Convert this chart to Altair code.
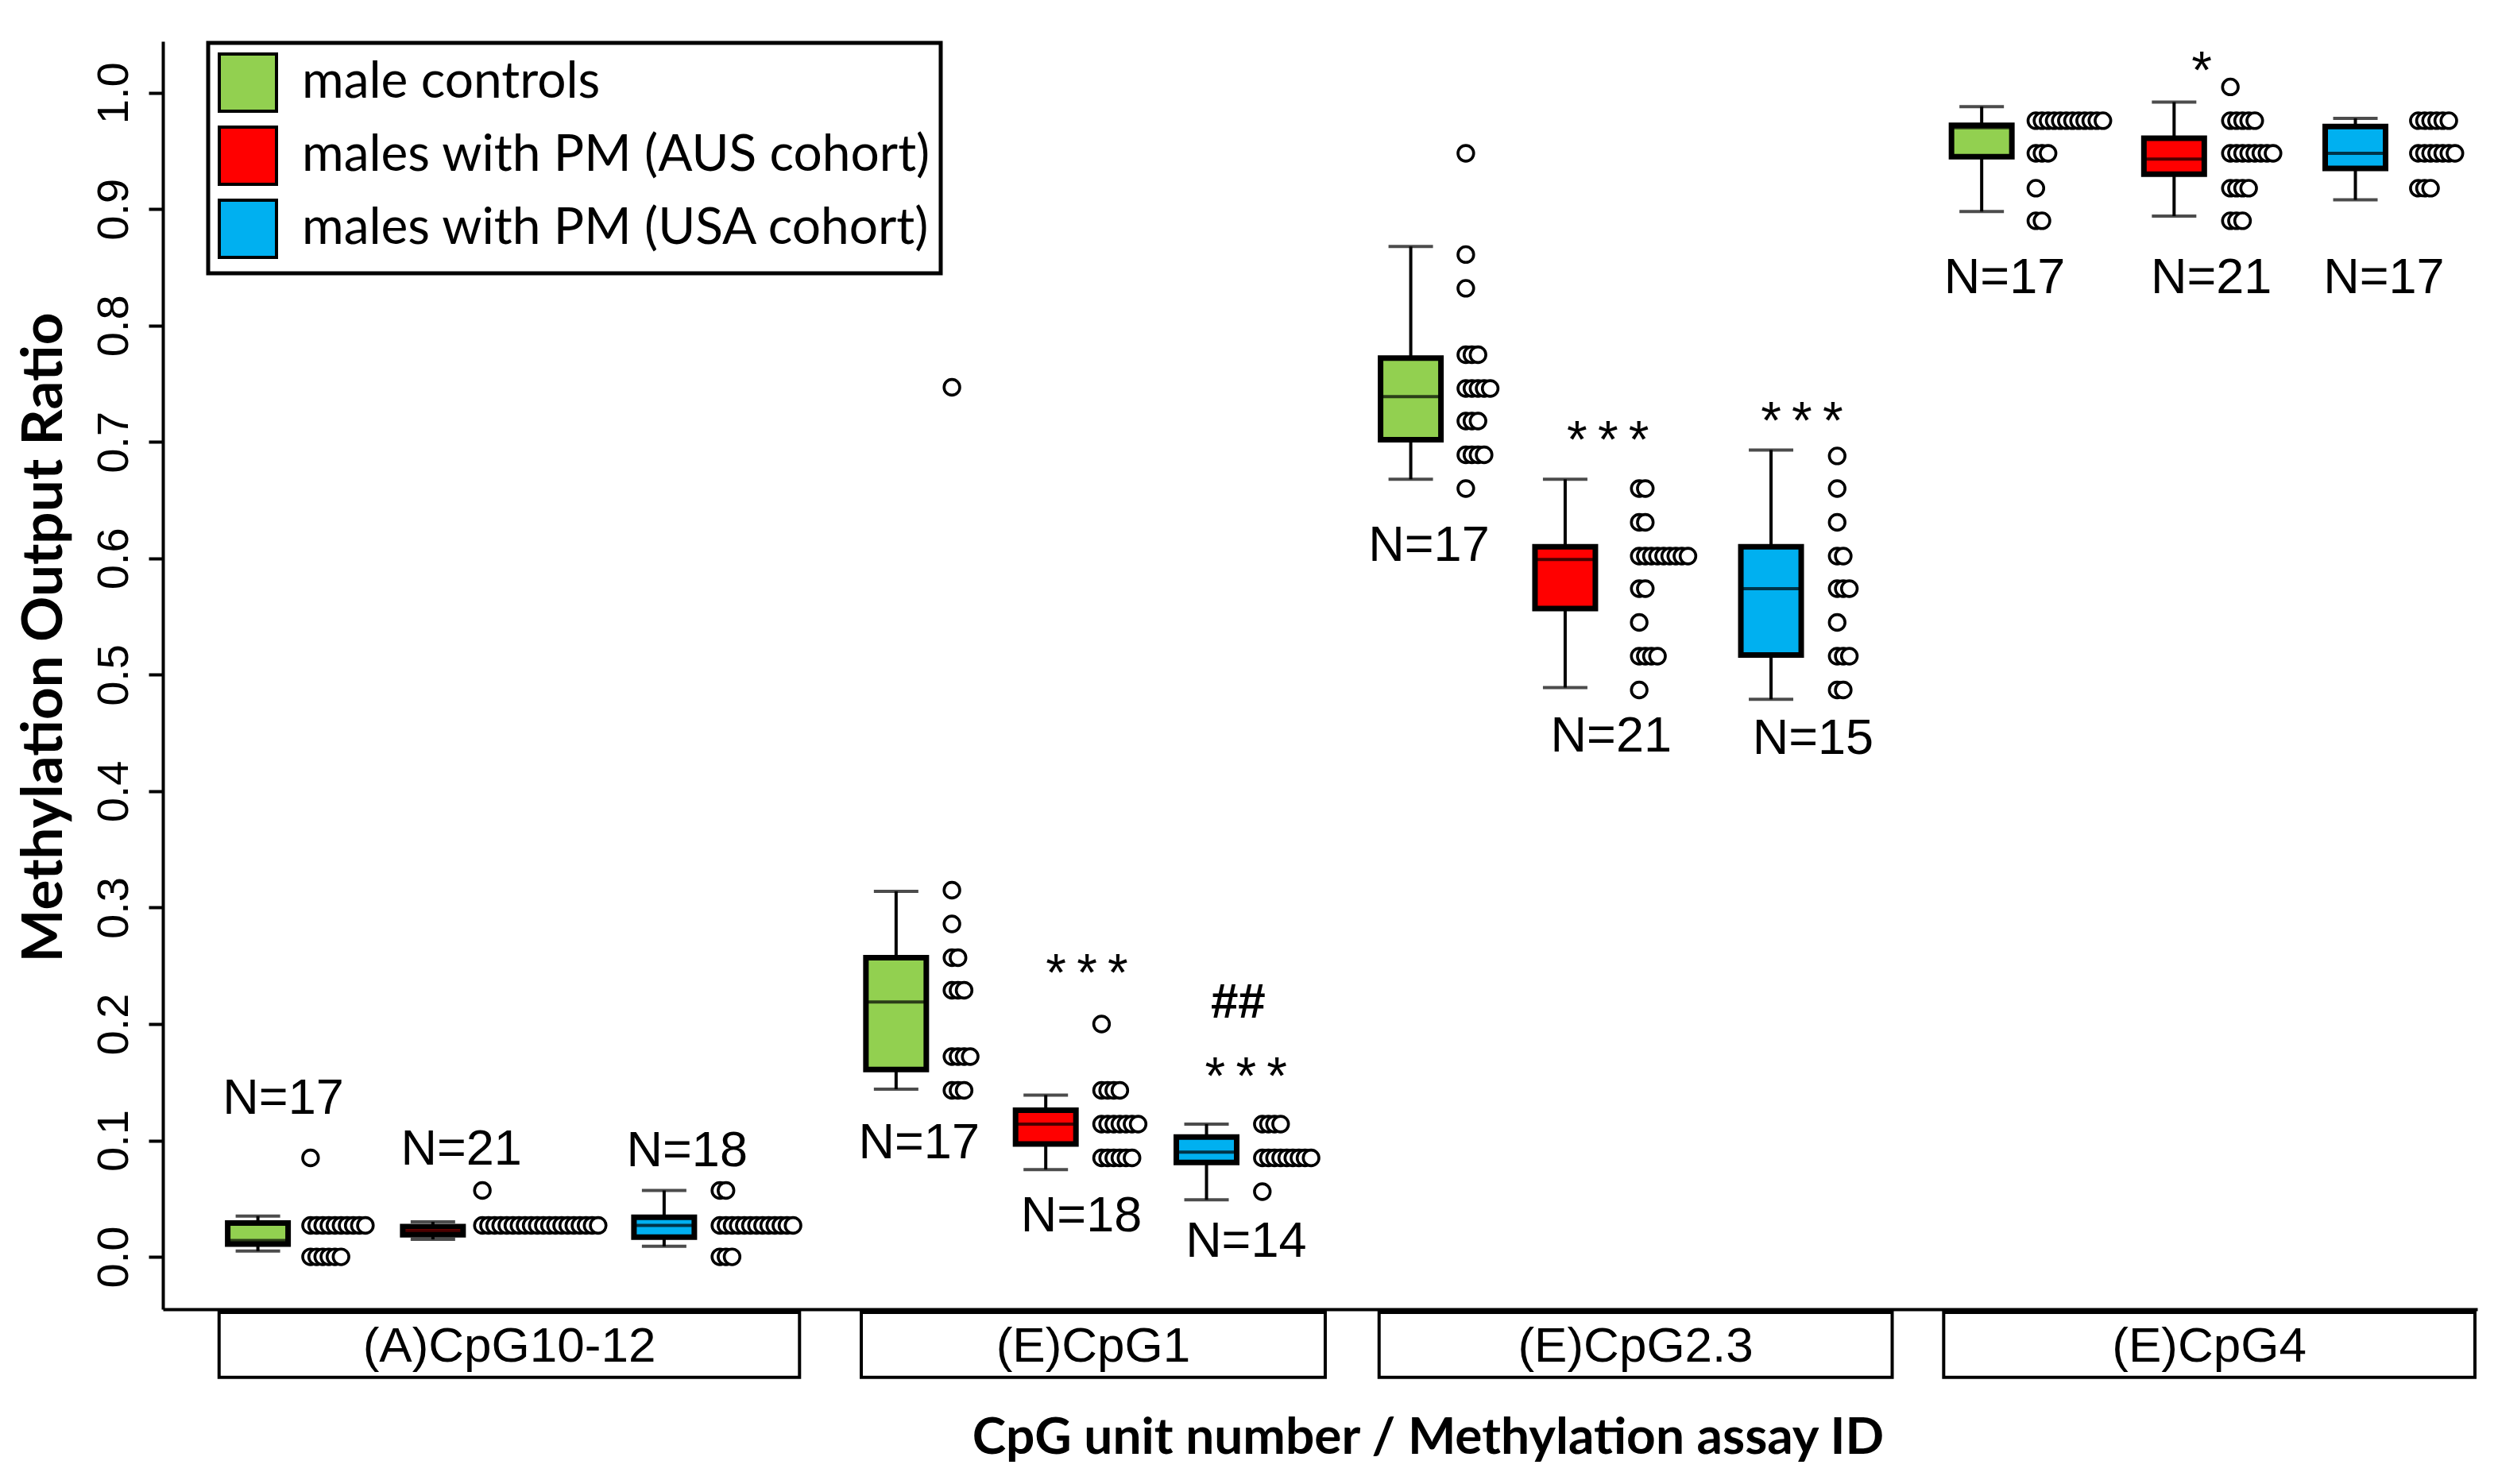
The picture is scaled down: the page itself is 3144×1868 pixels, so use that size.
import altair as alt
import pandas as pd

# ---------------- data ----------------
groups = ["male controls", "males with PM (AUS cohort)", "males with PM (USA cohort)"]
colors = ["#92D050", "#FF0000", "#00B0F0"]
assays = ["(A)CpG10-12", "(E)CpG1", "(E)CpG2.3", "(E)CpG4"]

# box summaries: rows = assay, columns = group
box_lo  = [[0.005, 0.015, 0.009], [0.144, 0.075, 0.049], [0.668, 0.489, 0.479], [0.898, 0.894, 0.908]]
box_q1  = [[0.011, 0.019, 0.017], [0.161, 0.097, 0.081], [0.702, 0.557, 0.517], [0.945, 0.930, 0.935]]
box_med = [[0.014, 0.022, 0.027], [0.219, 0.114, 0.090], [0.739, 0.599, 0.574], [0.970, 0.943, 0.948]]
box_q3  = [[0.029, 0.026, 0.034], [0.257, 0.126, 0.103], [0.772, 0.610, 0.610], [0.972, 0.961, 0.971]]
box_hi  = [[0.035, 0.030, 0.057], [0.314, 0.139, 0.114], [0.868, 0.668, 0.693], [0.988, 0.992, 0.978]]
n_counts = [[17, 21, 18], [17, 18, 14], [17, 21, 15], [17, 21, 17]]

# individual observations (stacked when tied)
dots = [
    [  # (A)CpG10-12
        [0.085] + [0.027] * 10 + [0.0] * 6,
        [0.057] + [0.027] * 20,
        [0.057] * 2 + [0.027] * 13 + [0.0] * 3,
    ],
    [  # (E)CpG1
        [0.747, 0.315, 0.286] + [0.257] * 2 + [0.229] * 3 + [0.172] * 4 + [0.143] * 3,
        [0.200] + [0.143] * 4 + [0.114] * 7 + [0.085] * 6,
        [0.114] * 4 + [0.085] * 9 + [0.056],
    ],
    [  # (E)CpG2.3
        [0.948, 0.861, 0.832] + [0.775] * 3 + [0.746] * 5 + [0.718] * 3 + [0.689] * 4 + [0.660],
        [0.660] * 2 + [0.631] * 2 + [0.602] * 9 + [0.574] * 2 + [0.545] + [0.516] * 4 + [0.487],
        [0.688, 0.660, 0.631] + [0.602] * 2 + [0.574] * 3 + [0.545] + [0.516] * 3 + [0.487] * 2,
    ],
    [  # (E)CpG4
        [0.976] * 12 + [0.948] * 3 + [0.918] + [0.890] * 2,
        [1.005] + [0.976] * 5 + [0.948] * 8 + [0.918] * 4 + [0.890] * 3,
        [0.976] * 6 + [0.948] * 7 + [0.918] * 3,
    ],
]

# significance marks: (text, assay index, group index)
sig_marks = [("*\u2009*\u2009*", 1, 1), ("##", 1, 2), ("*\u2009*\u2009*", 1, 2),
             ("*\u2009*\u2009*", 2, 1), ("*\u2009*\u2009*", 2, 2), ("*", 3, 1)]

# ---------------- layout (x slots on a 0..40 axis) ----------------
box_x = [[1.579, 4.614, 8.624], [12.647, 15.242, 18.030], [21.572, 24.250, 27.820], [31.473, 34.810, 37.954]]
dot_x0 = [[2.492, 5.472, 9.591], [13.615, 16.210, 18.998], [22.527, 25.534, 28.967], [32.413, 35.786, 39.046]]
dot_step = 0.1057
n_pos = [[(2.019, 0.138), (5.108, 0.094), (9.022, 0.093)],
         [(13.045, 0.0997), (15.860, 0.037), (18.716, 0.015)],
         [(21.888, 0.613), (25.047, 0.449), (28.548, 0.447)],
         [(31.871, 0.843), (35.455, 0.843), (38.448, 0.843)]]
sig_pos = [(15.956, 0.254), (18.579, 0.221), (18.716, 0.165), (24.991, 0.712), (28.356, 0.728), (35.290, 1.029)]
cat_box = [(0.906, 10.972), (12.043, 20.089), (21.023, 29.921), (30.814, 40.027)]
cat_y = (-0.0477, -0.1036)

# ---------------- build tables ----------------
box_rows = []
for ai, a in enumerate(assays):
    for gi, g in enumerate(groups):
        box_rows.append({"assay": a, "group": g, "x": box_x[ai][gi],
                         "lo": box_lo[ai][gi], "q1": box_q1[ai][gi], "med": box_med[ai][gi],
                         "q3": box_q3[ai][gi], "hi": box_hi[ai][gi]})
box_df = pd.DataFrame(box_rows)

dot_rows = []
for ai, a in enumerate(assays):
    for gi, g in enumerate(groups):
        s = pd.Series(dots[ai][gi])
        k = s.groupby(s).cumcount()
        for v, kk in zip(s, k):
            dot_rows.append({"assay": a, "group": g, "value": v, "x": dot_x0[ai][gi] + kk * dot_step})
dot_df = pd.DataFrame(dot_rows).sort_values("x")

n_rows = []
for ai in range(4):
    for gi in range(3):
        n_rows.append({"label": f"N={n_counts[ai][gi]}", "x": n_pos[ai][gi][0], "y": n_pos[ai][gi][1]})
n_df = pd.DataFrame(n_rows)

sig_df = pd.DataFrame([{"label": t, "x": p[0], "y": p[1], "kind": "hash" if t == "##" else "star"}
                       for (t, ai, gi), p in zip(sig_marks, sig_pos)])

cat_df = pd.DataFrame([{"assay": a, "x": b[0], "x2": b[1], "y": cat_y[0], "y2": cat_y[1],
                        "xc": (b[0] + b[1]) / 2, "yc": (cat_y[0] + cat_y[1]) / 2}
                       for a, b in zip(assays, cat_box)])

# ---------------- scales ----------------
xs = alt.Scale(domain=[0, 40], nice=False, zero=False)
ys = alt.Scale(domain=[-0.045, 1.0442], nice=False, zero=False)

X = alt.X("x:Q", scale=xs, axis=alt.Axis(
    title="CpG unit number / Methylation assay ID", ticks=False, labels=False, grid=False,
    domainColor="black", domainWidth=4, titleFont="Lato", titleFontWeight="bold",
    titleFontSize=64, titleColor="black", titleX=1592, titleY=162, titleBaseline="middle",
    titleAlign="center"))
Y_AX = alt.Axis(title="Methylation Output Ratio", values=[i / 10 for i in range(11)], format=".1f",
                grid=False, labelAngle=270, labelAlign="center", labelBaseline="alphabetic",
                labelFont="Liberation Sans", labelFontSize=56, labelColor="black", labelPadding=27,
                tickSize=18, tickWidth=4, tickColor="black", domainColor="black", domainWidth=4,
                titleFont="Lato", titleFontWeight="bold", titleFontSize=71, titleColor="black",
                titleAngle=270, titleAlign="center", titleBaseline="alphabetic",
                titleX=-128, titleY=750)

base_box = alt.Chart(box_df)

whisk = base_box.mark_rule(color="black", strokeWidth=4).encode(
    x=X, y=alt.Y("lo:Q", scale=ys, axis=Y_AX), y2="hi:Q")

caps = base_box.transform_fold(["lo", "hi"], as_=["end", "val"]).mark_tick(
    orient="horizontal", size=56, thickness=4, color="black").encode(
    x="x:Q", y=alt.Y("val:Q", scale=ys))

boxes = base_box.mark_bar(size=76, stroke="black", strokeWidth=7, opacity=1).encode(
    x="x:Q", y=alt.Y("q1:Q", scale=ys), y2="q3:Q",
    color=alt.Color("group:N", scale=alt.Scale(domain=groups, range=colors),
                    legend=alt.Legend(title=None, orient="none", legendX=57, legendY=2,
                                      symbolType="square", symbolSize=5184,
                                      symbolStrokeColor="black", symbolStrokeWidth=4,
                                      symbolOpacity=1, labelFont="Lato", labelFontSize=64,
                                      labelColor="black", labelOffset=30, rowPadding=4,
                                      padding=12, strokeColor="black", fillColor="white",
                                      labelLimit=2000)))

medians = base_box.mark_tick(orient="horizontal", size=76, thickness=4, color="black").encode(
    x="x:Q", y=alt.Y("med:Q", scale=ys))

points = alt.Chart(dot_df).mark_point(shape="circle", filled=True, fill="white", stroke="black",
                                     strokeWidth=3.6, size=390, opacity=1).encode(
    x="x:Q", y=alt.Y("value:Q", scale=ys))

n_text = alt.Chart(n_df).mark_text(font="Liberation Sans", fontSize=63, color="black",
                                   baseline="middle", dy=3).encode(
    x="x:Q", y=alt.Y("y:Q", scale=ys), text="label:N")

stars = alt.Chart(sig_df).transform_filter("datum.kind == 'star'").mark_text(
    font="Liberation Sans", fontSize=66, color="black", baseline="middle", dy=17).encode(
    x="x:Q", y=alt.Y("y:Q", scale=ys), text="label:N")
hashes = alt.Chart(sig_df).transform_filter("datum.kind == 'hash'").mark_text(
    font="Liberation Sans", fontSize=62, fontWeight="bold", color="black", baseline="middle",
    dy=4).encode(x="x:Q", y=alt.Y("y:Q", scale=ys), text="label:N")

cat_rect = alt.Chart(cat_df).mark_rect(fill="white", stroke="black", strokeWidth=4).encode(
    x="x:Q", x2="x2:Q", y=alt.Y("y:Q", scale=ys), y2="y2:Q")
cat_text = alt.Chart(cat_df).mark_text(font="Liberation Sans", fontSize=62, color="black",
                                       baseline="middle", dy=2).encode(
    x="xc:Q", y=alt.Y("yc:Q", scale=ys), text="assay:N")

chart = alt.layer(whisk, caps, boxes, medians, points, n_text, stars, hashes,
                  cat_rect, cat_text).properties(
    width=2913, height=1596,
    padding={"left": 197, "top": 44, "right": 18, "bottom": 212},
    autosize=alt.AutoSizeParams(type="none"),
    background="white",
).configure_view(stroke=None).configure_legend(strokeWidth=5)

chart.save("out.html", embed_options={"renderer": "svg", "actions": False})
